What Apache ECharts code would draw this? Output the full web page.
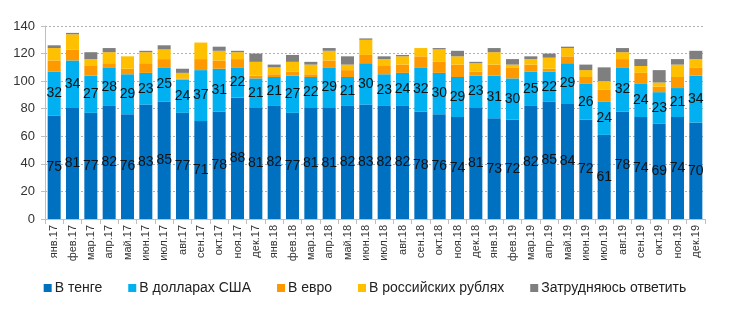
<!DOCTYPE html>
<html><head><meta charset="utf-8">
<script src="https://cdn.jsdelivr.net/npm/echarts@6/dist/echarts.min.js"></script>
<style>html,body{margin:0;padding:0;background:#fff}#c{width:730px;height:328px}</style>
</head><body><div id="c"></div>
<script>
const categories = ['янв.17','фев.17','мар.17','апр.17','май.17','июн.17','июл.17','авг.17','сен.17','окт.17','ноя.17','дек.17',
 'янв.18','фев.18','мар.18','апр.18','май.18','июн.18','июл.18','авг.18','сен.18','окт.18','ноя.18','дек.18',
 'янв.19','фев.19','мар.19','апр.19','май.19','июн.19','июл.19','авг.19','сен.19','окт.19','ноя.19','дек.19'];
const tenge = [75,81,77,82,76,83,85,77,71,78,88,81, 82,77,81,81,82,83,82,82,78,76,74,81, 73,72,82,85,84,72,61,78,74,69,74,70];
const usd   = [32,34,27,28,29,23,25,24,37,31,22,21, 21,27,22,29,21,30,23,24,32,30,29,23, 31,30,25,22,29,26,24,32,24,23,21,34];
const euro  = [8,8,7,3,4,7,6,1,8,6,6,2, 2,3,2,5,5,6,6,6,8,8,9,3, 8,8,5,2,5,5,9,6,8,4,8,6];
const rub   = [9,11,5,8,9,8,7,4,12,7,5,10, 5,7,7,7,4,11,5,6,6,9,6,6, 9,2,4,8,6,5,6,5,5,3,9,6];
const hard  = [2,1,5,3,0,1,3,3,0,3,1,6, 2,5,2,2,6,1,2,1,0,1,4,1, 3,4,2,3,1,4,10,3,5,9,4,6];
const seriesNames = ['В тенге','В долларах США','В евро','В российских рублях','Затрудняюсь ответить'];
const colors = ['#0070C0','#00B0F0','#FF9900','#FFC000','#7F7F7F'];
const yTicks = {min:0, max:140, interval:20};

const chart = echarts.init(document.getElementById('c'), null, {renderer:'canvas'});
const narrow = '"Liberation Sans Narrow", "Liberation Sans", sans-serif';
const lbl = {show:true, position:'inside', color:'#111', fontSize:14, fontFamily:narrow};
const data = [tenge, usd, euro, rub, hard];
chart.setOption({
  animation:false,
  color: colors,
  grid:{left:45, right:25, top:26, bottom:109},
  legend:{bottom:28, left:'center', itemWidth:8, itemHeight:8, itemGap:26, icon:'rect',
    textStyle:{fontSize:14, color:'#222', fontFamily:narrow, padding:[0,0,0,-2]},
    data: seriesNames},
  xAxis:{type:'category', data:categories,
    axisLine:{lineStyle:{color:'#bfbfbf'}},
    axisTick:{show:true, alignWithLabel:false, lineStyle:{color:'#bfbfbf'}},
    axisLabel:{rotate:90, interval:0, fontSize:11, color:'#333', margin:6, fontFamily:'"Liberation Sans", sans-serif'}},
  yAxis:{type:'value', min:yTicks.min, max:yTicks.max, interval:yTicks.interval,
    axisLine:{show:true, lineStyle:{color:'#bfbfbf'}},
    axisTick:{show:true, length:4, lineStyle:{color:'#bfbfbf'}},
    axisLabel:{fontSize:13, color:'#333', margin:10, fontFamily:'"Liberation Sans", sans-serif'},
    splitLine:{lineStyle:{color:'#b0b0b0', type:[2,2]}}},
  series: seriesNames.map((n,i)=>({
    name:n, type:'bar', stack:'s', data:data[i], barWidth:13,
    itemStyle:{color:colors[i]},
    label: i<2 ? lbl : {show:false}
  }))
});
</script></body></html>
